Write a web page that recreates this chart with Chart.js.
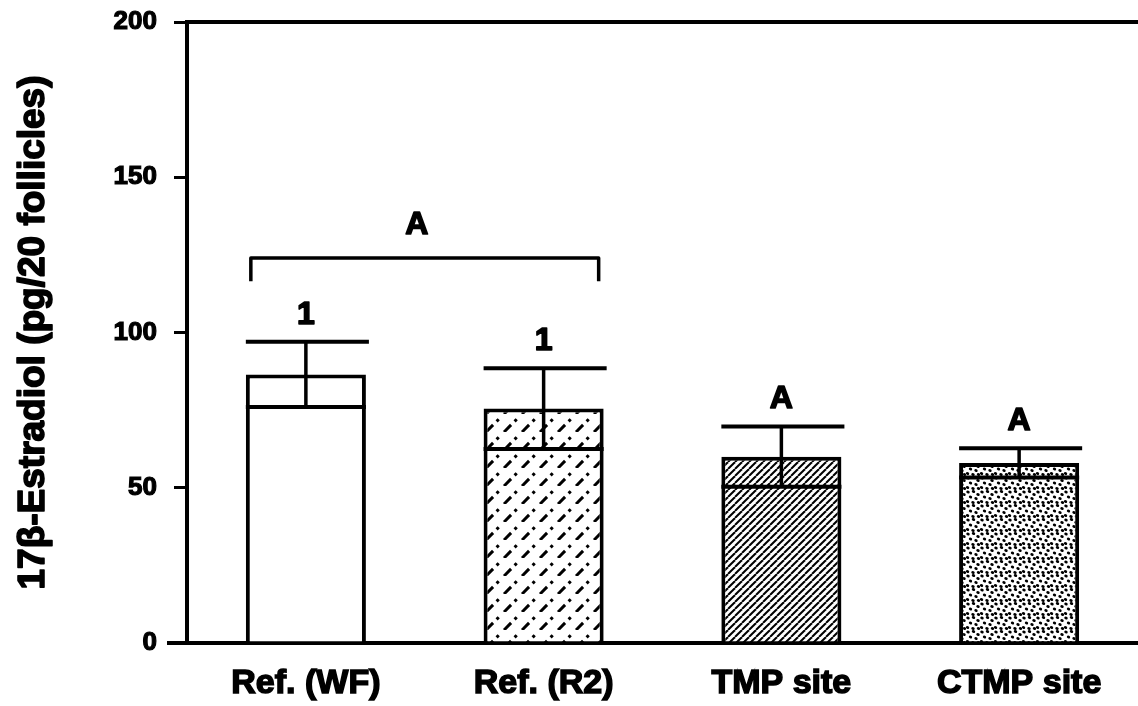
<!DOCTYPE html>
<html>
<head>
<meta charset="utf-8">
<script src="https://cdn.jsdelivr.net/npm/chart.js@4"></script>
<style>
  html, body { margin: 0; padding: 0; background: #fff; overflow: hidden; }
  #wrap { width: 1138px; height: 706px; position: relative; }
</style>
</head>
<body>
<div id="wrap"><canvas id="estradiolChart"></canvas></div>
<script>
// Data
const categories = ['Ref. (WF)', 'Ref. (R2)', 'TMP site', 'CTMP site'];
const means = [86.5, 75.5, 60, 58];
const sem = [10.5, 13, 9.7, 4.7];
const groupLetters = ['1', '1', 'A', 'A'];
const bracketLetter = 'A';
const yTicks = [0, 50, 100, 150, 200];
const yTitle = '17β-Estradiol (pg/20 follicles)';

const FONT = "'Liberation Sans', Arial, sans-serif";

// diagonal "/" line tile, optionally dashed
function hatchPattern(size, width, dash) {
    const c = document.createElement('canvas');
    c.width = size; c.height = size;
    const g = c.getContext('2d');
    g.fillStyle = '#fff';
    g.fillRect(0, 0, size, size);
    g.strokeStyle = '#000';
    g.lineWidth = width;
    if (dash) g.setLineDash(dash);
    [0, size, size * 2].forEach(k => {
        g.beginPath();
        g.moveTo(k - size, size);
        g.lineTo(k, 0);
        g.stroke();
    });
    return g.createPattern(c, 'repeat');
}

// stipple tile with fixed dot positions
function dotPattern() {
    const size = 14;
    const c = document.createElement('canvas');
    c.width = size; c.height = size;
    const g = c.getContext('2d');
    g.fillStyle = '#fff';
    g.fillRect(0, 0, size, size);
    g.fillStyle = '#000';
    const dots = [[2, 2], [7.5, 1.5], [12, 4.5], [4.5, 7], [10, 8.5], [1.5, 11.5], [7, 12.5], [12.5, 12.5]];
    dots.forEach(([x, y]) => {
        g.beginPath();
        g.ellipse(x, y, 1.7, 1.4, 0.4, 0, Math.PI * 2);
        g.fill();
    });
    return g.createPattern(c, 'repeat');
}

const fills = [
    '#ffffff',
    hatchPattern(18, 3, [10, 5, 3, 7.46]),
    hatchPattern(7, 2),
    dotPattern()
];

function heavyText(ctx, text, x, y, stroke) {
    ctx.fillText(text, x, y);
    ctx.lineWidth = stroke;
    ctx.lineJoin = 'round';
    ctx.strokeText(text, x, y);
}

// error bars, group letters, bracket, top frame line, y title
const extras = {
    id: 'extras',
    afterDatasetsDraw(chart) {
        const ctx = chart.ctx;
        const y = chart.scales.y;
        const area = chart.chartArea;
        const bars = chart.getDatasetMeta(0).data;
        ctx.save();
        ctx.strokeStyle = '#000';
        ctx.fillStyle = '#000';
        ctx.lineCap = 'butt';

        bars.forEach((bar, i) => {
            const half = bar.width / 2;
            const yHi = y.getPixelForValue(means[i] + sem[i]);
            const yLo = y.getPixelForValue(means[i] - sem[i]);
            ctx.lineWidth = 3.5;
            ctx.beginPath();
            ctx.moveTo(bar.x, yHi);
            ctx.lineTo(bar.x, yLo);
            ctx.stroke();
            ctx.lineWidth = 4;
            ctx.beginPath();
            ctx.moveTo(bar.x - half, yHi);
            ctx.lineTo(bar.x + half + 3, yHi);
            ctx.stroke();
            ctx.beginPath();
            ctx.moveTo(bar.x - half, yLo);
            ctx.lineTo(bar.x + half, yLo);
            ctx.stroke();

            ctx.font = 'bold 32px ' + FONT;
            ctx.textAlign = 'center';
            ctx.textBaseline = 'middle';
            heavyText(ctx, groupLetters[i], bar.x, yHi - 27, 1.6);
        });

        // bracket over the two reference sites
        const b0 = bars[0], b1 = bars[1];
        const xl = b0.x - b0.width / 2 + 5;
        const xr = b1.x + b1.width / 2 - 5;
        const yb = y.getPixelForValue(124);
        const ye = y.getPixelForValue(116.5);
        ctx.lineWidth = 3.5;
        ctx.beginPath();
        ctx.moveTo(xl, ye);
        ctx.lineTo(xl, yb);
        ctx.lineTo(xr, yb);
        ctx.lineTo(xr, ye);
        ctx.stroke();
        ctx.font = 'bold 32px ' + FONT;
        ctx.textAlign = 'center';
        ctx.textBaseline = 'middle';
        heavyText(ctx, bracketLetter, (xl + xr) / 2 - 8, y.getPixelForValue(134.5), 1.6);

        // frame line along the top and x axis stub to the left
        const yTop = y.getPixelForValue(yTicks[yTicks.length - 1]);
        const y0 = y.getPixelForValue(0);
        ctx.lineWidth = 4;
        ctx.beginPath();
        ctx.moveTo(area.left, yTop);
        ctx.lineTo(area.right, yTop);
        ctx.stroke();
        ctx.beginPath();
        ctx.moveTo(area.left - 20, y0);
        ctx.lineTo(area.left, y0);
        ctx.stroke();

        // y axis title, centred on the plot height
        ctx.translate(34, (area.top + area.bottom) / 2);
        ctx.rotate(-Math.PI / 2);
        ctx.font = 'bold 37px ' + FONT;
        ctx.textAlign = 'center';
        ctx.textBaseline = 'middle';
        heavyText(ctx, yTitle, 0, 0, 1.6);
        ctx.restore();
    }
};

const ctx = document.getElementById('estradiolChart').getContext('2d');

new Chart(ctx, {
    type: 'bar',
    data: {
        labels: categories,
        datasets: [{
            data: means,
            backgroundColor: fills,
            borderColor: '#000',
            borderWidth: 4,
            barPercentage: 0.505,
            categoryPercentage: 1
        }]
    },
    options: {
        responsive: true,
        maintainAspectRatio: false,
        animation: false,
        events: [],
        layout: { padding: { top: 22, right: 0, bottom: 0, left: 0 } },
        plugins: {
            legend: { display: false },
            tooltip: { enabled: false }
        },
        scales: {
            x: {
                grid: { display: false, drawTicks: false },
                border: { display: true, color: '#000', width: 4 },
                ticks: {
                    color: '#000',
                    padding: 20,
                    textStrokeColor: '#000',
                    textStrokeWidth: 1.5,
                    font: { family: FONT, size: 34, weight: 'bold' }
                },
                afterFit: (scale) => { scale.height = 63; }
            },
            y: {
                min: 0,
                max: 200,
                afterBuildTicks: (scale) => { scale.ticks = yTicks.map(v => ({ value: v })); },
                grid: {
                    drawOnChartArea: false,
                    drawTicks: true,
                    tickLength: 13,
                    color: '#000',
                    lineWidth: 3
                },
                border: { display: true, color: '#000', width: 4 },
                ticks: {
                    color: '#000',
                    padding: 17,
                    textStrokeColor: '#000',
                    textStrokeWidth: 1.2,
                    font: { family: FONT, size: 26, weight: 'bold' }
                },
                afterFit: (scale) => {
                    scale.width = 187;
                    scale.paddingTop = 0;
                    scale.paddingBottom = 0;
                }
            }
        }
    },
    plugins: [extras]
});
</script>
</body>
</html>
